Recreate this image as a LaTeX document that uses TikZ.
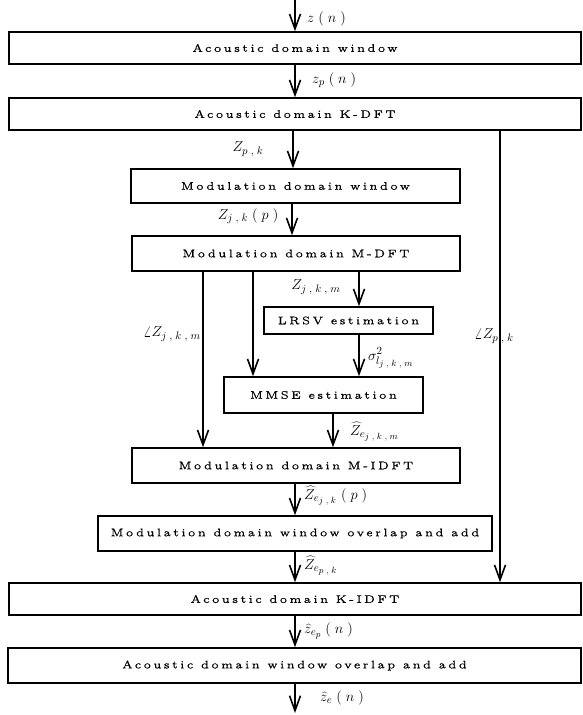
\documentclass[tikz,border=0pt]{standalone}
\usepackage{fontspec}
\usetikzlibrary{arrows.meta}
\DeclareMathSizes{14}{14}{10.5}{9.5}
\newfontfamily\spacedrm{lmroman5-regular}[Extension=.otf, LetterSpace=20, FakeBold=0.3]
\newcommand{\mg}{\mkern5mu}
\newcommand{\boxtxt}{\spacedrm\fontsize{11}{14}\selectfont}
\begin{document}
\begin{tikzpicture}[x=1pt,y=-1pt,
  box/.style={draw, line width=1.5pt, inner sep=0pt, font=\boxtxt},
  lbl/.style={inner sep=0pt, font=\fontsize{14}{16}\selectfont},
  arr/.style={line width=1.6pt, -{Straight Barb[length=15pt,width=11pt]}}]
\useasboundingbox (0,0) rectangle (582,715);
% boxes
\node[box, minimum width=572pt, minimum height=32pt] (aw) at (295,48) {Acoustic domain window};
\node[box, minimum width=572pt, minimum height=32pt] (kdft) at (295,114) {Acoustic domain K-DFT};
\node[box, minimum width=329pt, minimum height=34pt] (mw) at (295.5,186) {Modulation domain window};
\node[box, minimum width=328pt, minimum height=35pt] (mdft) at (296,253.5) {Modulation domain M-DFT};
\node[box, minimum width=169pt, minimum height=27pt] (lrsv) at (348.5,320.5) {LRSV estimation};
\node[box, minimum width=199pt, minimum height=36pt] (mmse) at (323.5,395) {MMSE estimation};
\node[box, minimum width=328pt, minimum height=35pt] (midft) at (296,465.5) {Modulation domain M-IDFT};
\node[box, minimum width=394pt, minimum height=35pt] (mola) at (295,533.5) {Modulation domain window overlap and add};
\node[box, minimum width=572pt, minimum height=32pt] (kidft) at (295,599) {Acoustic domain K-IDFT};
\node[box, minimum width=573pt, minimum height=35pt] (aola) at (294.5,665.5) {Acoustic domain window overlap and add};
% helper coordinates
\coordinate (cA) at (295,0);
\coordinate (xB) at (293,0);
\coordinate (xC) at (292,0);
\coordinate (xL) at (359,0);
\coordinate (xM) at (253,0);
\coordinate (xP) at (203,0);
\coordinate (xE) at (333,0);
\coordinate (xR) at (500,0);
\coordinate (cOut) at (295,713);
% connectors
\draw[arr] (cA) -- (aw.north -| cA);
\draw[arr] (aw.south -| cA) -- (kdft.north -| cA);
\draw[arr] (kdft.south -| xB) -- (mw.north -| xB);
\draw[arr] (mw.south -| xC) -- (mdft.north -| xC);
\draw[arr] (mdft.south -| xL) -- (lrsv.north -| xL);
\draw[arr] (mdft.south -| xM) -- (mmse.north -| xM);
\draw[arr] (mdft.south -| xP) -- (midft.north -| xP);
\draw[arr] (lrsv.south -| xL) -- (mmse.north -| xL);
\draw[arr] (mmse.south -| xE) -- (midft.north -| xE);
\draw[arr] (midft.south -| cA) -- (mola.north -| cA);
\draw[arr] (mola.south -| cA) -- (kidft.north -| cA);
\draw[arr] (kdft.south -| xR) -- (kidft.north -| xR);
\draw[arr] (kidft.south -| cA) -- (aola.north -| cA);
\draw[arr] (aola.south -| cA) -- (cOut);
% labels
\node[lbl, anchor=west] (lz) at (307,18.5) {$z\mg(\mg n\mg)$};
\node[lbl, anchor=west] (lzp) at (312,80) {$z_p\mg(\mg n\mg)$};
\node[lbl] (lZpk) at (248,149) {$Z_{p\mg,\mg k}$};
\node[lbl] (lZjkp) at (248,216) {$Z_{j\mg,\mg k}\mg(\mg p\mg)$};
\node[lbl] (lZjkm) at (316,287) {$Z_{j\mg,\mg k\mg,\mg m}$};
\node[lbl, anchor=east] (lang1) at (201,334) {$\angle Z_{j\mg,\mg k\mg,\mg m}$};
\node[lbl] (lang2) at (494,336) {$\angle Z_{p\mg,\mg k}$};
\node[lbl, anchor=west] (lsig) at (368,358) {$\sigma^2_{l_{j\mg,\mg k\mg,\mg m}}$};
\node[lbl, anchor=west] (lZe1) at (350,432) {$\widehat{Z}_{e_{j\mg,\mg k\mg,\mg m}}$};
\node[lbl, anchor=west] (lZe2) at (304,496) {$\widehat{Z}_{e_{j\mg,\mg k}}\mg(\mg p\mg)$};
\node[lbl, anchor=west] (lZe3) at (304,566) {$\widehat{Z}_{e_{p\mg,\mg k}}$};
\node[lbl, anchor=west] (lze4) at (304,631) {$\widehat{z}_{e_p}\mg(\mg n\mg)$};
\node[lbl, anchor=west] (lze5) at (320,698) {$\widehat{z}_e\mg(\mg n\mg)$};
\end{tikzpicture}
\end{document}
